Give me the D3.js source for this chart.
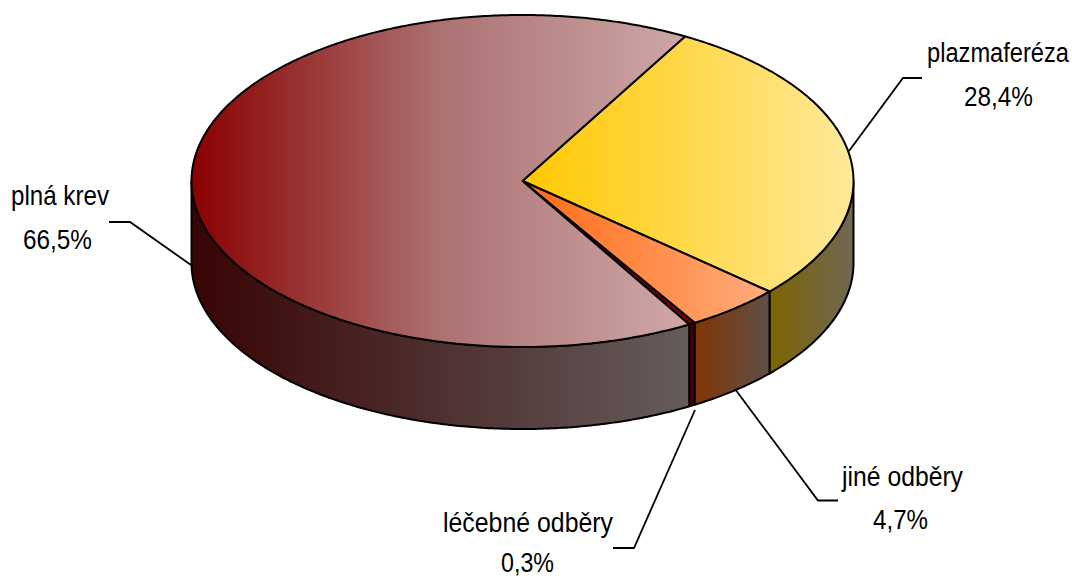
<!DOCTYPE html>
<html><head><meta charset="utf-8">
<script src="https://cdn.jsdelivr.net/npm/d3@7"></script>
<style>html,body{margin:0;padding:0;background:#fff}svg{display:block}</style>
</head><body><svg id="c" width="1072" height="579"></svg>
<script>
const categories = ["plazmaferéza", "jiné odběry", "léčebné odběry", "plná krev"];
const shares = [28.4, 4.7, 0.3, 66.5];
const labels = ["28,4%", "4,7%", "0,3%", "66,5%"];
const topStops = [["#ffc800", "#ffe99a"], ["#ff6a14", "#ffad7d"], ["#7a0000", "#7a0000"], ["#8a0000", "#ab7272", "#cfa8a8"]];
const sideStops = [["#7d6500", "#6f6855"], ["#823505", "#5f4f48"], ["#4a0000", "#4a0000"], ["#380404", "#655c5c"]];

const cx = 522.5, cy = 181, rx = 331, ry = 166, depth = 82;
const x = d3.scaleLinear().domain([-1, 1]).range([cx - rx, cx + rx]);
const y = d3.scaleLinear().domain([-1, 1]).range([cy - ry, cy + ry]);
const svg = d3.select("#c");
const defs = svg.append("defs");
const TAU = 2 * Math.PI, START = 29.4 * Math.PI / 180;

const arcs = d3.pie().sort(null).startAngle(START).endAngle(START + TAU)(shares);
const pt = (a, dy = 0) => [x(Math.sin(a)), y(-Math.cos(a)) + dy];
const line = d3.line();
const samples = (a0, a1) => {
  const n = Math.max(2, Math.ceil((a1 - a0) / 0.01));
  return d3.range(n + 1).map(i => a0 + (a1 - a0) * i / n);
};
function grad(id, stops, x0, x1) {
  const g = defs.append("linearGradient").attr("id", id).attr("gradientUnits", "userSpaceOnUse")
    .attr("x1", x0).attr("x2", x1).attr("y1", 0).attr("y2", 0);
  stops.forEach((c, k) => g.append("stop").attr("offset", k / (stops.length - 1)).attr("stop-color", c));
}
const stroke = p => p.attr("stroke", "#000").attr("stroke-width", 2).attr("stroke-linejoin", "round");

// side walls: only the front half of the rim shows
const FRONT0 = Math.PI / 2, FRONT1 = 3 * Math.PI / 2;
const walls = svg.append("g"), tops = svg.append("g");
arcs.forEach((d, i) => {
  const a0 = Math.max(d.startAngle, FRONT0), a1 = Math.min(d.endAngle, FRONT1);
  if (a1 <= a0) return;
  const as = samples(a0, a1);
  const xs = as.map(a => pt(a)[0]);
  grad("s" + i, sideStops[i], d3.min(xs), d3.max(xs));
  const upper = as.map(a => pt(a));
  const lower = as.slice().reverse().map(a => pt(a, depth));
  walls.append("path").attr("d", line(upper.concat(lower)) + "Z")
    .attr("fill", `url(#s${i})`).call(stroke);
});
arcs.forEach((d, i) => {
  const as = samples(d.startAngle, d.endAngle);
  const rim = as.map(a => pt(a));
  const xs = rim.map(p => p[0]).concat(cx);
  grad("t" + i, topStops[i], d3.min(xs), d3.max(xs));
  tops.append("path").attr("d", line([[cx, cy]].concat(rim)) + "Z")
    .attr("fill", `url(#t${i})`).call(stroke);
});

// leader lines and labels: [centre x, baseline, text width]
const leaderPts = [
  [[849, 151], [903, 78], [922, 78]],
  [[735, 389], [818, 500.5], [838, 500.5]],
  [[695, 410], [634, 548], [613, 548]],
  [[191, 265], [130, 222], [109, 222]]
];
const namePos = [[998, 62, 142], [902.5, 486, 121], [528, 532, 170], [60, 205, 98]];
const valuePos = [[998.5, 106, 69], [900.5, 529, 55], [527.5, 572, 53], [57.5, 249, 69]];
const fontSize = 28;
function addText(s, [lx, ly, w]) {
  const t = svg.append("text").attr("text-anchor", "middle")
    .attr("font-family", "'Liberation Sans'").attr("font-size", fontSize).attr("fill", "#000").text(s);
  const natural = t.node().getComputedTextLength();
  t.attr("transform", `translate(${lx},${ly}) scale(${w / natural},1)`);
}
categories.forEach((c, i) => {
  svg.append("path").attr("d", line(leaderPts[i])).attr("fill", "none")
    .attr("stroke", "#000").attr("stroke-width", 1.8);
  addText(c, namePos[i]);
  addText(labels[i], valuePos[i]);
});
</script></body></html>
